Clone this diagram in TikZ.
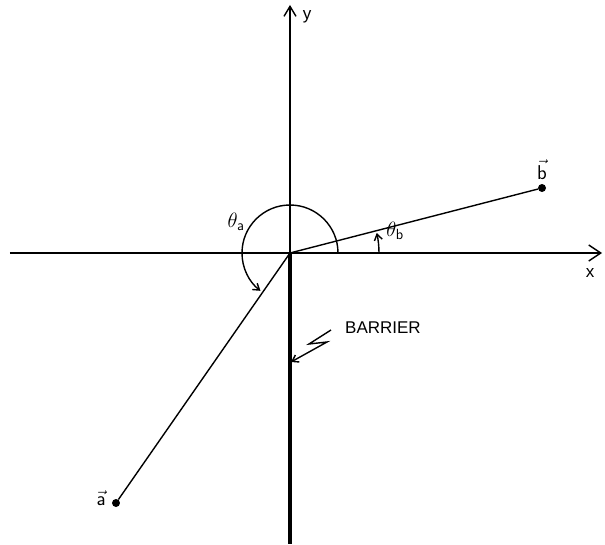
\documentclass[tikz,border=0pt]{standalone}
\usepackage{fontspec}
\setmainfont{Liberation Sans}
\usepackage{tikz}
\usetikzlibrary{arrows.meta,positioning}

\begin{document}
\begin{tikzpicture}[
    x=1pt, y=1pt,
    axis/.style={line width=1.4pt, -{Straight Barb[length=12pt, width=16pt, line width=1.4pt]}},
    ray/.style={line width=1.4pt},
    angarrow/.style={line width=1.4pt, -{Straight Barb[length=6pt, width=8pt, line width=1.4pt]}},
    point/.style={circle, fill, inner sep=0pt, minimum size=8pt},
    lbl/.style={font=\fontsize{17}{20}\selectfont, inner sep=1pt},
    veclbl/.style={font=\fontsize{20}{24}\selectfont, inner sep=1pt},
    anglbl/.style={font=\fontsize{21}{24}\selectfont, inner sep=1pt}
]
\useasboundingbox (-290,-291) rectangle (315,253);
\coordinate (O) at (0,0);
\coordinate (xl) at (-280,0);
\coordinate (xr) at (312,0);
\coordinate (yt) at (0,248);
\coordinate (yb) at (0,-291);
\coordinate (bartip) at (1,-109);
\node[point] (a) at (-174,-250) {};
\node[point] (b) at (252,65) {};

\node[veclbl, above=3pt of b] (blbl) {$\vec{\mathsf{b}}$};
\node[veclbl, left=5pt of a, yshift=5pt] (albl) {$\vec{\mathsf{a}}$};
\node[lbl] (xlbl) at (300,-20) {x};
\node[lbl] (ylbl) at (17,236) {y};
\node[anglbl] (thetaa) at (-54,31) {$\theta_{\mathsf{a}}$};
\node[anglbl] (thetab) at (105,22) {$\theta_{\mathsf{b}}$};
\node[lbl, anchor=west] (barrier) at (54,-75) {BARRIER};

\draw[axis] (xl) -- (xr);
\draw[axis, -{Straight Barb[length=10pt, width=12pt, line width=1.4pt]}] (O) -- (yt);
\draw[line width=4pt] (O) -- (yb);
\draw[ray] (O) -- (a);
\draw[ray] (O) -- (b);

\draw[angarrow] (O) ++(48,0) arc[start angle=0, end angle=232, radius=48];
\draw[angarrow] (O) ++(89,0) arc[start angle=0, end angle=13, radius=89];

\draw[angarrow] ([xshift=-13pt, yshift=-2pt]barrier.west) -- ++(-22,-14) -- ++(18,2) -- (bartip);
\end{tikzpicture}
\end{document}
